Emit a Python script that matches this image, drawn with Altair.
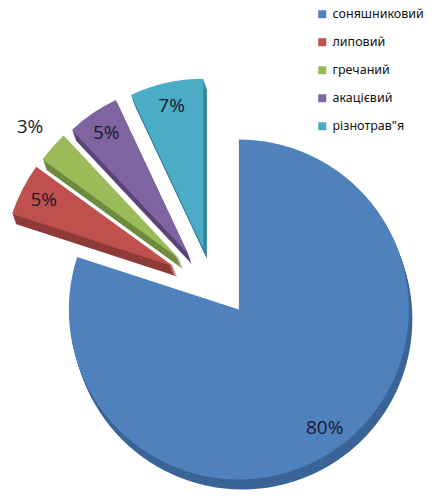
import altair as alt
import pandas as pd

categories = ["соняшниковий", "липовий", "гречаний", "акацієвий", "різнотрав\"я"]
values = [80, 5, 3, 5, 7]
colors = ["#4F81BD", "#C0504D", "#9BBB59", "#8064A2", "#4BACC6"]
dark_colors = ["#3A6397", "#8E3A38", "#6E8A3C", "#5B4578", "#32849A"]

df = pd.DataFrame({
    "cat": categories,
    "val": values,
    "ord": list(range(len(categories))),
    "dark": dark_colors,
})

CX, CY = 205, 274   # pie centre (plot coords)
EXX, EXY = 44, 34   # explode distance (horizontal / vertical)
R = 170

base = alt.Chart(df).transform_window(
    cum="sum(val)", sort=[alt.SortField("ord")], frame=[None, 0]
).transform_joinaggregate(total="sum(val)").transform_calculate(
    t0="(datum.cum - datum.val) / datum.total * 2 * PI",
    t1="datum.cum / datum.total * 2 * PI",
).transform_calculate(
    mid="(datum.t0 + datum.t1) / 2",
).transform_calculate(
    cx=f"{CX} + {EXX} * sin(datum.mid)",
    cy=f"{CY} - {EXY} * cos(datum.mid)",
    lr="datum.val < 4 ? 200 : 146",
    label="datum.val + '%'",
)

enc_common = dict(
    x=alt.X("cx:Q", scale=None),
    y=alt.Y("cy:Q", scale=None),
    theta=alt.Theta("t0:Q", scale=None, stack=None),
    theta2="t1:Q",
)

depth_layers = []
for d in [2, 4, 6, 8, 10]:
    depth_layers.append(
        base.mark_arc(radius=R, xOffset=d * 0.35, yOffset=d).encode(
            color=alt.Color("dark:N", scale=None), **enc_common
        )
    )

top = base.mark_arc(radius=R).encode(
    color=alt.Color(
        "cat:N",
        scale=alt.Scale(domain=categories, range=colors),
        legend=alt.Legend(
            title=None,
            orient="none",
            legendX=308,
            legendY=0,
            symbolType="square",
            symbolSize=64,
            symbolStrokeWidth=0,
            labelFontSize=12.5,
            labelFont="Noto Sans",
            labelColor="#111111",
            rowPadding=15,
            labelOffset=4,
            labelLimit=200,
        ),
    ),
    **enc_common,
)

labels = base.mark_text(fontSize=19, font="Open Sans", color="#1a1a30").encode(
    x=alt.X("cx:Q", scale=None),
    y=alt.Y("cy:Q", scale=None),
    theta=alt.Theta("mid:Q", scale=None, stack=None),
    radius=alt.Radius("lr:Q", scale=None),
    text="label:N",
)

chart = alt.layer(*depth_layers, top, labels).properties(
    width=426, height=485, padding=0, autosize="none", background="white"
).configure_view(stroke=None)

chart.save("out.html", embed_options={"renderer": "svg", "actions": False})
